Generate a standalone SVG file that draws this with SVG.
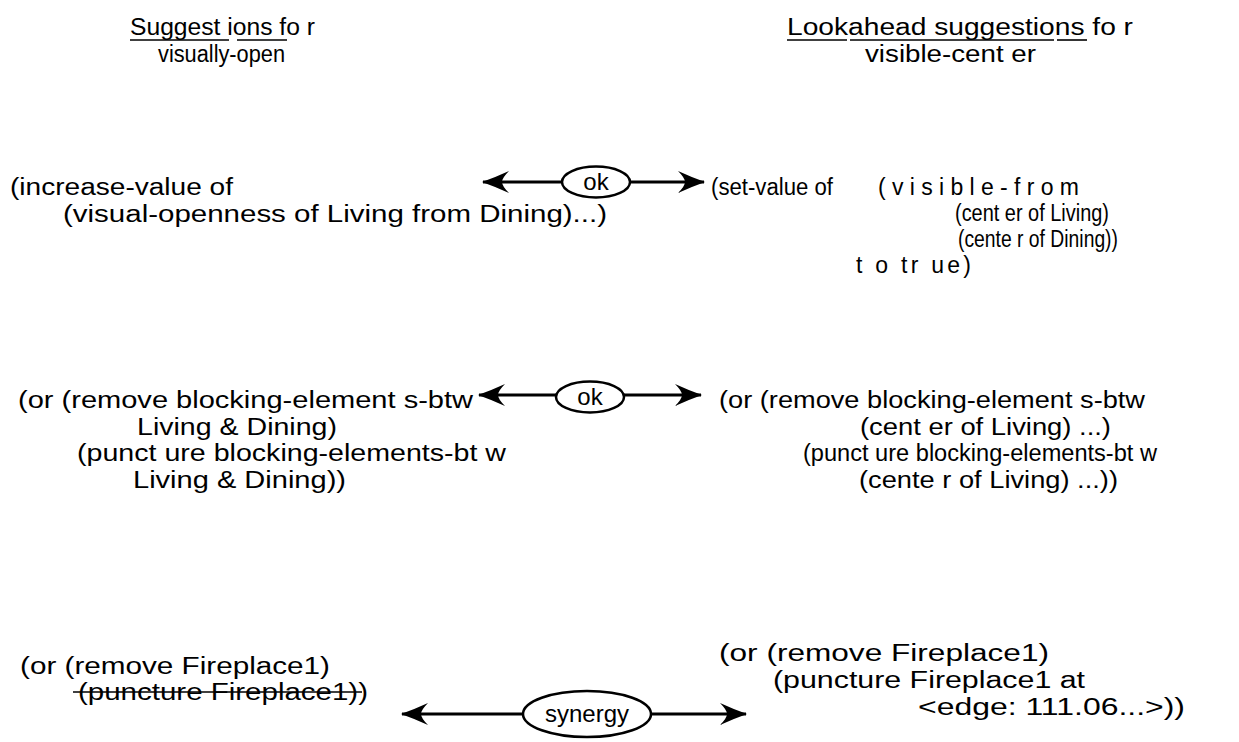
<svg xmlns="http://www.w3.org/2000/svg" width="1239" height="742" viewBox="0 0 1239 742">
<style>
text{font-family:"Liberation Sans",Arial,sans-serif;font-size:23px;fill:#000}
.lbl{font-size:24px}
.u{stroke:#000;stroke-width:1.6}
.c{stroke:#000;stroke-width:3;fill:none}
.e{stroke:#000;stroke-width:2.5;fill:#fff}
</style>
<defs>
<marker id="ah" viewBox="0 0 28 22" refX="27" refY="11" markerWidth="28" markerHeight="22" markerUnits="userSpaceOnUse" orient="auto-start-reverse">
<path d="M28,11 Q14,6 1,0 Q8,7 8,11 Q8,15 1,22 Q14,16 28,11 Z" fill="#000"/>
</marker>
</defs>
<g id="title-left">
<text x="130" y="35" textLength="185" lengthAdjust="spacingAndGlyphs">Suggest ions fo r</text>
<line class="u" x1="130" y1="40" x2="229" y2="40"/>
<line class="u" x1="237" y1="40" x2="287" y2="40"/>
<text x="158" y="62" textLength="127" lengthAdjust="spacingAndGlyphs">visually-open</text>
</g>
<g id="title-right">
<text x="787" y="35" textLength="346" lengthAdjust="spacingAndGlyphs">Lookahead suggestions fo r</text>
<line class="u" x1="787" y1="40" x2="847" y2="40"/>
<line class="u" x1="850" y1="40" x2="1054" y2="40"/>
<line class="u" x1="1057" y1="40" x2="1087" y2="40"/>
<text x="865" y="62" textLength="171" lengthAdjust="spacingAndGlyphs">visible-cent er</text>
</g>
<g id="connectors">
<line class="c" x1="483" y1="182" x2="704" y2="182" marker-start="url(#ah)" marker-end="url(#ah)"/>
<line class="c" x1="479" y1="395" x2="701" y2="395" marker-start="url(#ah)" marker-end="url(#ah)"/>
<line class="c" x1="402" y1="714" x2="746" y2="714" marker-start="url(#ah)" marker-end="url(#ah)"/>
</g>
<g id="ok1">
<ellipse class="e" cx="596" cy="182" rx="34" ry="15.5"/>
<text class="lbl" x="596" y="190" text-anchor="middle">ok</text>
</g>
<g id="ok2">
<ellipse class="e" cx="590" cy="397" rx="34" ry="15.5"/>
<text class="lbl" x="590" y="405" text-anchor="middle">ok</text>
</g>
<g id="synergy">
<ellipse class="e" cx="587" cy="714" rx="64" ry="23"/>
<text class="lbl" x="587" y="722" text-anchor="middle">synergy</text>
</g>
<g id="left1">
<text x="10" y="195" textLength="223" lengthAdjust="spacingAndGlyphs">(increase-value of</text>
<text x="63" y="222" textLength="544" lengthAdjust="spacingAndGlyphs">(visual-openness of Living from Dining)...)</text>
</g>
<g id="right1">
<text x="711" y="195" textLength="122" lengthAdjust="spacingAndGlyphs">(set-value of</text>
<text x="878" y="195" textLength="201" lengthAdjust="spacing">(visible-from</text>
<text x="955" y="221" textLength="154" lengthAdjust="spacingAndGlyphs">(cent er of Living)</text>
<text x="958" y="247" textLength="160" lengthAdjust="spacingAndGlyphs">(cente r of Dining))</text>
<text x="856" y="273" textLength="115" lengthAdjust="spacing">t o tr ue)</text>
</g>
<g id="left2">
<text x="18" y="408" textLength="455" lengthAdjust="spacingAndGlyphs">(or (remove blocking-element s-btw</text>
<text x="137" y="435" textLength="200" lengthAdjust="spacingAndGlyphs">Living &amp; Dining)</text>
<text x="77" y="461" textLength="429" lengthAdjust="spacingAndGlyphs">(punct ure blocking-elements-bt w</text>
<text x="133" y="488" textLength="213" lengthAdjust="spacingAndGlyphs">Living &amp; Dining))</text>
</g>
<g id="right2">
<text x="719" y="408" textLength="426" lengthAdjust="spacingAndGlyphs">(or (remove blocking-element s-btw</text>
<text x="860" y="435" textLength="251" lengthAdjust="spacingAndGlyphs">(cent er of Living) ...)</text>
<text x="803" y="461" textLength="354" lengthAdjust="spacingAndGlyphs">(punct ure blocking-elements-bt w</text>
<text x="859" y="488" textLength="259" lengthAdjust="spacingAndGlyphs">(cente r of Living) ...))</text>
</g>
<g id="left3">
<text x="20" y="674" textLength="310" lengthAdjust="spacingAndGlyphs">(or (remove Fireplace1)</text>
<text x="78" y="700" textLength="290" lengthAdjust="spacingAndGlyphs">(puncture Fireplace1))</text>
<line class="u" x1="73" y1="692" x2="362" y2="692"/>
</g>
<g id="right3">
<text x="719" y="661" textLength="330" lengthAdjust="spacingAndGlyphs">(or (remove Fireplace1)</text>
<text x="773" y="688" textLength="312" lengthAdjust="spacingAndGlyphs">(puncture Fireplace1 at</text>
<text x="918" y="715" textLength="267" lengthAdjust="spacingAndGlyphs">&lt;edge: 111.06...&gt;))</text>
</g>
</svg>
